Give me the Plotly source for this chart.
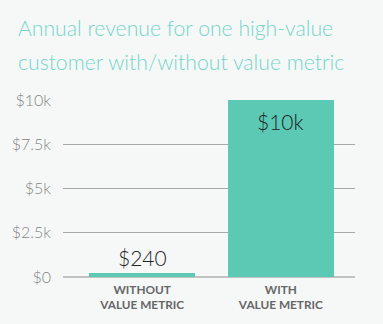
import plotly.graph_objects as go

# Chart data
categories = ["WITHOUT<br>VALUE METRIC", "WITH<br>VALUE METRIC"]
revenue = [240, 10000]
tick_vals = [0, 2500, 5000, 7500, 10000]
tick_text = ["$0", "$2.5k", "$5k", "$7.5k", "$10k"]
title_lines = ["Annual revenue for one high-value", "customer with/without value metric"]


def money(v):
    return f"${v/1000:g}k" if v >= 1000 else f"${v:g}"


labels = [money(v) for v in revenue]
x_pos = list(range(len(categories)))

BG = "#f6f8f8"
TEAL = "#5bc9b4"
FONT = "Lato"

fig = go.Figure()
fig.add_trace(go.Bar(
    x=x_pos,
    y=revenue,
    width=0.76,
    marker=dict(color=TEAL, line=dict(width=0)),
    hoverinfo="skip",
))

# Value labels: small bar gets its label above, the tall bar inside near its top
for i, (v, lab) in enumerate(zip(revenue, labels)):
    small = v < max(revenue) * 0.2
    fig.add_annotation(
        x=x_pos[i], y=v, text=lab, showarrow=False,
        xanchor="center", yanchor="bottom" if small else "top",
        yshift=1 if small else -7,
        font=dict(family=FONT, size=21, color="#1c2424", weight=300),
    )

for i, line in enumerate(title_lines):
    fig.add_annotation(
        text=line, xref="paper", yref="paper",
        x=-48 / 297, y=1 + (58 - 35 * i) / 180,
        xanchor="left", yanchor="bottom", showarrow=False,
        font=dict(family=FONT, size=21.2, color="#74d5c8", weight=300),
    )

fig.update_layout(
    width=383, height=324,
    margin=dict(l=58, r=28, t=100, b=44),
    paper_bgcolor=BG, plot_bgcolor=BG,
    showlegend=False,
    bargap=0,
    xaxis=dict(
        range=[-0.571, 1.535],
        tickvals=x_pos,
        ticktext=[f"<b>{c}</b>" for c in categories],
        tickfont=dict(family=FONT, size=11.8, color="#666666"),
        showgrid=False, zeroline=False, showline=False, ticks="",
        ticklabelstandoff=4,
    ),
    yaxis=dict(
        range=[0, 10000],
        tickvals=tick_vals,
        ticktext=tick_text,
        tickfont=dict(family=FONT, size=16, color="#858585", weight=300),
        showgrid=True, gridcolor="#a8a8a8", gridwidth=1,
        zeroline=True, zerolinecolor="#c2c2c2", zerolinewidth=2,
        showline=False, ticks="", ticklabelstandoff=11,
    ),
)

fig.write_html("out.html")
